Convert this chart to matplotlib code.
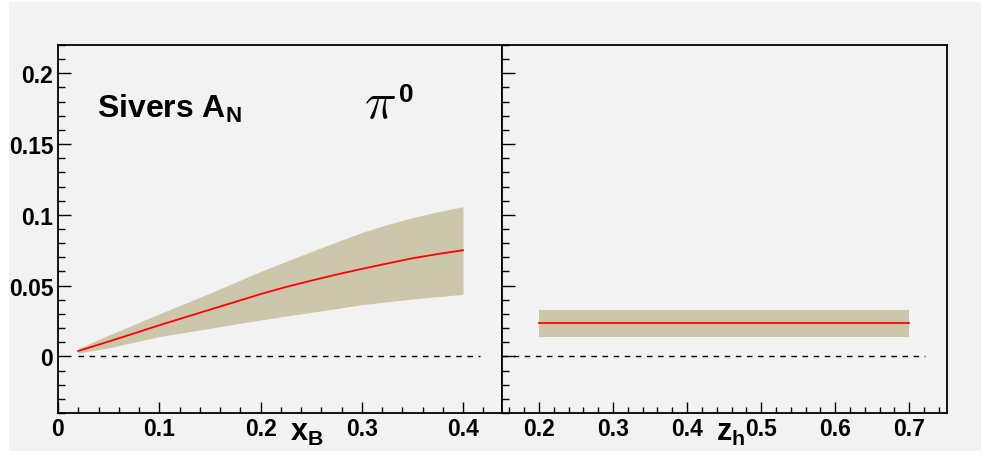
import numpy as np
import matplotlib
matplotlib.use('Agg')
import matplotlib.pyplot as plt
from matplotlib.patches import Rectangle
from matplotlib.ticker import MultipleLocator, FuncFormatter

# Sivers A_N for pi0 vs x_B (left) and z_h (right)
xb = [0.02, 0.05, 0.075, 0.10, 0.125, 0.15, 0.175, 0.20, 0.225, 0.25,
      0.275, 0.30, 0.325, 0.35, 0.375, 0.40]
xb_mid = [0.0038, 0.0105, 0.0162, 0.0220, 0.0275, 0.0330, 0.0385, 0.0440, 0.0490, 0.0535,
          0.0578, 0.0618, 0.0656, 0.0693, 0.0723, 0.0750]
xb_up = [0.0055, 0.0150, 0.0225, 0.0300, 0.0373, 0.0447, 0.0523, 0.0600, 0.0670, 0.0740,
         0.0808, 0.0875, 0.0931, 0.0980, 0.1022, 0.1058]
xb_lo = [0.0024, 0.0060, 0.0100, 0.0140, 0.0169, 0.0198, 0.0228, 0.0257, 0.0285, 0.0311,
         0.0338, 0.0365, 0.0386, 0.0405, 0.0422, 0.0438]

zh = [0.2, 0.7]
zh_mid = [0.0233, 0.0233]
zh_up = [0.0325, 0.0325]
zh_lo = [0.0134, 0.0134]

plt.rcParams['font.family'] = ['Liberation Sans', 'DejaVu Sans']
plt.rcParams['font.weight'] = 'bold'
plt.rcParams['mathtext.fontset'] = 'custom'
plt.rcParams['mathtext.rm'] = 'Liberation Sans:bold'
plt.rcParams['mathtext.bf'] = 'Liberation Sans:bold'
plt.rcParams['mathtext.it'] = 'Liberation Sans:bold'

bg = '#f2f2f2'
band = '#ccc6aa'

W, H = 981, 452
fig = plt.figure(figsize=(W / 100, H / 100), dpi=100)
fig.patch.set_facecolor('white')
fig.patches.append(Rectangle((9 / W, 0), 1, 1 - 3 / H, transform=fig.transFigure,
                             facecolor=bg, edgecolor='none', zorder=-10))

bottom = 1 - 414 / H
height = (414 - 46) / H
ax1 = fig.add_axes([58 / W, bottom, (502 - 58) / W, height])
ax2 = fig.add_axes([502 / W, bottom, (947 - 502) / W, height])

fmt = FuncFormatter(lambda v, p: '%g' % round(v, 4))

for ax in (ax1, ax2):
    ax.set_facecolor(bg)
    ax.set_ylim(-0.04, 0.22)
    ax.yaxis.set_major_locator(MultipleLocator(0.05))
    ax.yaxis.set_minor_locator(MultipleLocator(0.01))
    ax.xaxis.set_major_locator(MultipleLocator(0.1))
    ax.xaxis.set_minor_locator(MultipleLocator(0.02))
    ax.xaxis.set_major_formatter(fmt)
    ax.yaxis.set_major_formatter(fmt)
    ax.tick_params(which='both', direction='in', top=False, right=False, width=1.0, color='black')
    ax.tick_params(which='major', length=9, labelsize=16.5, pad=3.5)
    ax.tick_params(which='minor', length=5)
    ax.tick_params(axis='x', which='major', length=8, pad=3)
    ax.tick_params(axis='x', which='minor', length=4.5)
    for s in ax.spines.values():
        s.set_linewidth(1.3)
    for lab in ax.get_xticklabels() + ax.get_yticklabels():
        lab.set_fontweight('bold')

ax1.set_xlim(0, 0.4385)
ax2.set_xlim(0.15, 0.751)
ax2.tick_params(axis='y', labelleft=False)

# left panel
ax1.fill_between(xb, xb_lo, xb_up, color=band, linewidth=0, zorder=1)
ax1.plot(xb, xb_mid, color='#ff0000', linewidth=1.3, zorder=2)
ax1.plot([0.02, 0.417], [0, 0], color='black', linestyle=(0, (4, 4)), linewidth=1.0, zorder=3)

# right panel
ax2.fill_between(zh, zh_lo, zh_up, color=band, linewidth=0, zorder=1)
ax2.plot(zh, zh_mid, color='#ff0000', linewidth=1.3, zorder=2)
ax2.plot([0.15, 0.721], [0, 0], color='black', linestyle=(0, (4, 4)), linewidth=1.0, zorder=3)

# labels
ax1.text((97 - 58) / 444, 1 - (118 - 46) / 368, r'Sivers A$_\mathregular{N}$', transform=ax1.transAxes,
         fontsize=23, fontweight='bold', ha='left', va='baseline')
ax1.text((364 - 58) / 444, 1 - (118 - 46) / 368, r'$\pi$', transform=ax1.transAxes,
         math_fontfamily='cm', fontsize=38, ha='left', va='baseline')
ax1.text((399 - 58) / 444, 1 - (102 - 46) / 368, '0', transform=ax1.transAxes,
         fontsize=19, fontweight='bold', ha='left', va='baseline')

ax1.text((290 - 58) / 444, -(441 - 414) / 368, r'x$_\mathregular{B}$', transform=ax1.transAxes,
         fontsize=22, fontweight='bold', ha='left', va='baseline', clip_on=False)
ax2.text((716 - 502) / 445, -(441 - 414) / 368, r'z$_\mathregular{h}$', transform=ax2.transAxes,
         fontsize=22, fontweight='bold', ha='left', va='baseline', clip_on=False)

fig.savefig('out.png', dpi=100, facecolor='white')
